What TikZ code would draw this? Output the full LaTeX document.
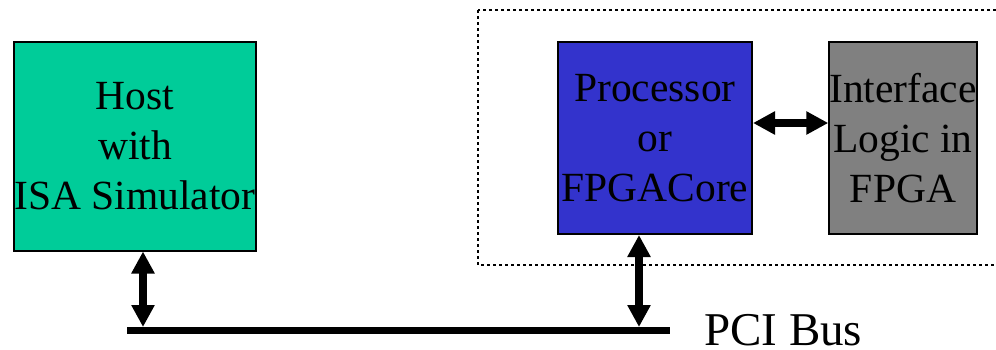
\documentclass[tikz,border=0pt]{standalone}
\usepackage{fontspec}
\setmainfont{Liberation Serif}
\usetikzlibrary{arrows.meta}
\definecolor{hostgreen}{RGB}{0,204,153}
\definecolor{procblue}{RGB}{51,51,204}
\definecolor{logicgray}{RGB}{128,128,128}
\tikzset{
  block/.style={draw=black, line width=2pt, inner sep=0pt, align=center,
    font=\fontsize{41.5}{50}\selectfont},
  link/.style={line width=8pt,
    {Triangle[width=22pt,length=22pt]}-{Triangle[width=22pt,length=22pt]}},
  busline/.style={line width=7.5pt},
  groupframe/.style={line width=2pt, dash pattern=on 3pt off 3pt},
}
\begin{document}
\begin{tikzpicture}[x=1pt,y=-1pt]
  \useasboundingbox (0,0) rectangle (996,349);

  % board boundary around the FPGA parts
  \draw[groupframe] (478,10) rectangle (1010,265);

  % blocks
  \node[block, fill=hostgreen, minimum width=242pt, minimum height=209pt]
    (host) at (135,146) {Host\\with\\ISA Simulator};
  \node[block, fill=procblue, minimum width=194pt, minimum height=192pt]
    (proc) at (655,138) {Processor\\or\\FPGACore};
  \node[block, fill=logicgray, minimum width=146pt, minimum height=192pt]
    (iface) at (903,138) {Interface\\Logic in\\FPGA};

  % PCI bus
  \coordinate (busL) at (127,330.5);
  \coordinate (busR) at (670,330.5);
  \draw[busline] (busL) -- (busR);
  \node[anchor=base west, inner sep=0pt, text depth=0pt,
        font=\fontsize{47}{56}\selectfont]
    (buslabel) at (704,345) {PCI Bus};

  % bus taps
  \coordinate (tapA) at (143,327);
  \coordinate (tapB) at (639,327);
  \draw[link] (tapA |- host.south) -- (tapA);
  \draw[link] (tapB |- proc.south) -- (tapB);

  % processor <-> interface logic
  \draw[link] ([yshift=15pt]proc.east) -- ([yshift=15pt]iface.west);
\end{tikzpicture}
\end{document}
